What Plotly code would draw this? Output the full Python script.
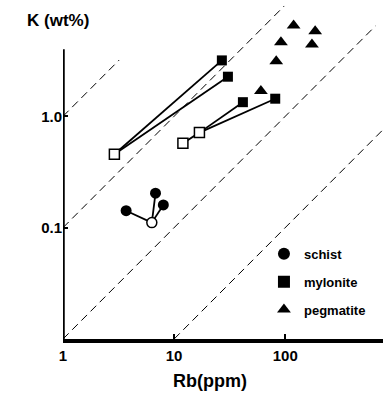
import plotly.graph_objects as go

# ---- data ----
schist_rb = [3.7, 6.8, 8.0]
schist_k = [0.142, 0.204, 0.160]
schist_open_rb = [6.3]
schist_open_k = [0.111]

mylonite_open_rb = [2.9, 12.0, 16.9]
mylonite_open_k = [0.456, 0.573, 0.714]
mylonite_rb = [26.9, 30.5, 41.6, 81.3]
mylonite_k = [3.18, 2.27, 1.34, 1.44]
# links: (open index, filled index)
mylonite_links = [(0, 0), (0, 1), (2, 2), (2, 3)]
open_links = [(1, 2)]

pegmatite_rb = [119, 186, 91.5, 174, 83, 60.4]
pegmatite_k = [6.55, 5.82, 4.64, 4.42, 3.13, 1.69]

# reference lines K = c * Rb, with extents in Rb
ratio_c = [1.0, 0.1, 0.01, 0.001]
ratio_x0 = [1.0, 1.0, 1.0, 10.0]
ratio_x1 = [3.2, 98.0, 650.0, 900.0]

x_ticks = [1, 10, 100]
x_labels = ["1", "10", "100"]
y_ticks = [0.1, 1.0]
y_labels = ["0.1", "1.0"]
Y_AXIS_TOP = 4.0

FONT = "Liberation Sans"

fig = go.Figure()

# dashed ratio lines
for c, a, b in zip(ratio_c, ratio_x0, ratio_x1):
    xs = [a, b]
    fig.add_trace(go.Scatter(x=xs, y=[c * v for v in xs], mode="lines",
                             line=dict(color="black", width=1, dash="8px,5px"),
                             showlegend=False, hoverinfo="skip"))

# schist links
for xr, yk in zip(schist_rb, schist_k):
    fig.add_trace(go.Scatter(x=[xr, schist_open_rb[0]], y=[yk, schist_open_k[0]],
                             mode="lines", line=dict(color="black", width=1.8),
                             showlegend=False, hoverinfo="skip"))
# mylonite links
for i, j in mylonite_links:
    fig.add_trace(go.Scatter(x=[mylonite_open_rb[i], mylonite_rb[j]],
                             y=[mylonite_open_k[i], mylonite_k[j]],
                             mode="lines", line=dict(color="black", width=1.8),
                             showlegend=False, hoverinfo="skip"))
for i, j in open_links:
    fig.add_trace(go.Scatter(x=[mylonite_open_rb[i], mylonite_open_rb[j]],
                             y=[mylonite_open_k[i], mylonite_open_k[j]],
                             mode="lines", line=dict(color="black", width=1.8),
                             showlegend=False, hoverinfo="skip"))

# open symbols
fig.add_trace(go.Scatter(x=schist_open_rb, y=schist_open_k, mode="markers",
                         marker=dict(symbol="circle", size=10, color="white",
                                     line=dict(color="black", width=1.5)),
                         showlegend=False))
fig.add_trace(go.Scatter(x=mylonite_open_rb, y=mylonite_open_k, mode="markers",
                         marker=dict(symbol="square", size=10, color="white",
                                     line=dict(color="black", width=1.5)),
                         showlegend=False))

# filled symbols
fig.add_trace(go.Scatter(x=schist_rb, y=schist_k, mode="markers", name="schist",
                         marker=dict(symbol="circle", size=11, color="black"),
                         legendgroup="a"))
fig.add_trace(go.Scatter(x=mylonite_rb, y=mylonite_k, mode="markers", name="mylonite",
                         marker=dict(symbol="square", size=10, color="black"),
                         legendgroup="b"))
fig.add_trace(go.Scatter(x=pegmatite_rb, y=pegmatite_k, mode="markers", name="pegmatite",
                         marker=dict(symbol="triangle-up", size=12, color="black"),
                         legendgroup="c"))

fig.update_layout(
    width=387, height=396,
    margin=dict(l=63, r=4, t=5, b=57),
    plot_bgcolor="white", paper_bgcolor="white",
    font=dict(family=FONT, color="black"),
    xaxis=dict(type="log", range=[0, 2.88], showgrid=False, zeroline=False,
               showline=True, linewidth=3.5, linecolor="black",
               tickvals=x_ticks, ticktext=x_labels, ticks="inside",
               ticklen=5, tickwidth=2, tickcolor="black",
               tickfont=dict(size=15, family=FONT, weight="bold")),
    yaxis=dict(type="log", range=[-2, 1], showgrid=False, zeroline=False,
               showline=False, tickvals=y_ticks, ticktext=y_labels,
               ticks="inside", ticklen=5, tickwidth=2, tickcolor="black",
               tickfont=dict(size=15, family=FONT, weight="bold")),
    legend=dict(x=0.628, y=0.30, xanchor="left", yanchor="top",
                bgcolor="rgba(0,0,0,0)", tracegroupgap=8,
                font=dict(size=13, family=FONT, weight="bold"),
                itemsizing="constant"),
    showlegend=True,
)

# y-axis line (drawn only up to the top of the original axis)
fig.add_shape(type="line", xref="x", yref="y", x0=1, x1=1, y0=0.01, y1=Y_AXIS_TOP,
              line=dict(color="black", width=3.5))

fig.add_annotation(text="K (wt%)", xref="paper", yref="paper", x=-0.12, y=0.955,
                   xanchor="left", yanchor="middle", showarrow=False,
                   font=dict(size=17, family=FONT, weight="bold"))
fig.add_annotation(text="Rb(ppm)", xref="paper", yref="paper", x=0.46, y=-0.126,
                   xanchor="center", yanchor="middle", showarrow=False,
                   font=dict(size=18, family=FONT, weight="bold"))

fig.write_html("out.html", config={"displayModeBar": False},
               post_script="document.body.style.margin='0';document.body.style.padding='0';")
